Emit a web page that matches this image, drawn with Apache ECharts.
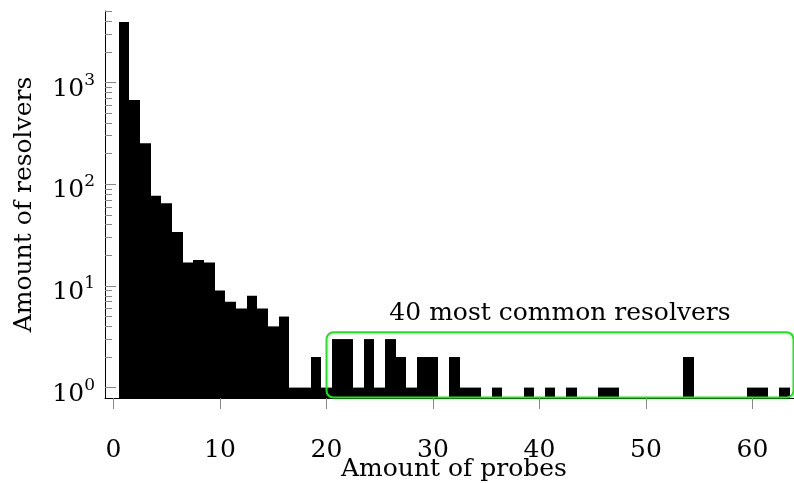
<!DOCTYPE html>
<html>
<head>
<meta charset="utf-8">
<script src="https://cdn.jsdelivr.net/npm/echarts@6/dist/echarts.min.js"></script>
<style>
html,body{margin:0;padding:0;background:#fff;}
#chart{width:794px;height:483px;}
</style>
</head>
<body>
<div id="chart"></div>
<script>
// Amount of probes (x) and amount of resolvers (y) per bin
const probes = [1,2,3,4,5,6,7,8,9,10,11,12,13,14,15,16,17,18,19,20,21,22,23,24,25,26,27,28,29,30,31,32,33,34,35,36,37,38,39,40,41,42,43,44,45,46,47,48,49,50,51,52,53,54,55,56,57,58,59,60,61,62,63];
const resolvers = [3950,674,253,77,65,34,17,18,17,9,7,6,8,6,4,5,1,1,2,1,3,3,1,3,1,3,2,1,2,2,0,2,1,1,0,1,0,0,1,0,1,0,1,0,0,1,1,0,0,0,0,0,0,2,0,0,0,0,0,1,1,0,1];
const xTicks = [0,10,20,30,40,50,60];
const yMajorTicks = [1,10,100,1000];
const yMinorTicks = [2,3,4,5,6,7,8,9,20,30,40,50,60,70,80,90,200,300,400,500,600,700,800,900,2000,3000,4000,5000];
// annotation box: x range and top value
const boxX = [20, 63.85];
const boxTop = 3.5;
const boxLabel = '40 most common resolvers';

const X_MIN = -0.8, X_MAX = 63.9, Y_MIN = 0.79, Y_MAX = 5060;
const FONT = 'DejaVu Serif';
const barData = [];
probes.forEach((p, i) => { if (resolvers[i] > 0) barData.push([p, resolvers[i]]); });

const chart = echarts.init(document.getElementById('chart'), null, {renderer: 'canvas'});
chart.setOption({
  animation: false,
  backgroundColor: '#fff',
  grid: {left: 105, right: 0, top: 11, bottom: 85, containLabel: false, outerBoundsMode: 'none'},
  xAxis: {
    type: 'value', min: X_MIN, max: X_MAX,
    name: 'Amount of probes', nameLocation: 'middle', nameGap: 59, nameMoveOverlap: false,
    nameTextStyle: {fontFamily: FONT, fontSize: 25, color: '#000', padding: [0,0,0,9]},
    axisLine: {show: true, onZero: false, lineStyle: {color: '#000', width: 1}},
    axisTick: {show: true, inside: false, length: 11, lineStyle: {color: '#888', width: 1}, customValues: xTicks},
    axisLabel: {show: true, margin: 40, fontFamily: FONT, fontSize: 25, color: '#000', customValues: xTicks},
    splitLine: {show: false}
  },
  yAxis: [{
    type: 'log', min: Y_MIN, max: Y_MAX, logBase: 10,
    name: 'Amount of resolvers', nameLocation: 'middle', nameGap: 68, nameRotate: 90, nameMoveOverlap: false,
    nameTextStyle: {fontFamily: FONT, fontSize: 25, color: '#000'},
    axisLine: {show: true, onZero: false, lineStyle: {color: '#000', width: 1}},
    axisTick: {show: true, inside: true, length: 11, lineStyle: {color: '#888', width: 1}, customValues: yMajorTicks},
    axisLabel: {
      show: true, margin: 10, customValues: yMajorTicks, padding: [8,0,0,0],
      formatter: v => '{b|10}{s|' + Math.round(Math.log10(v)) + '}',
      rich: {
        b: {fontFamily: FONT, fontSize: 25, lineHeight: 30, color: '#000', verticalAlign: 'bottom'},
        s: {fontFamily: FONT, fontSize: 17, lineHeight: 20, color: '#000', verticalAlign: 'top'}
      }
    },
    splitLine: {show: false}
  }, {
    type: 'log', min: Y_MIN, max: Y_MAX, logBase: 10, position: 'left', offset: 0,
    axisLine: {show: false, onZero: false},
    axisTick: {show: true, inside: true, length: 7, lineStyle: {color: '#888', width: 1}, customValues: yMinorTicks},
    axisLabel: {show: false},
    splitLine: {show: false}
  }],
  series: [{
    type: 'custom',
    xAxisIndex: 0, yAxisIndex: 0,
    data: barData,
    clip: true,
    renderItem: (params, api) => {
      const x = api.value(0), v = api.value(1);
      const p0 = api.coord([x - 0.5, v]);
      const p1 = api.coord([x + 0.5, Y_MIN]);
      const x0 = Math.round(p0[0]), x1 = Math.round(p1[0]);
      return {type: 'rect', shape: {x: x0, y: p0[1], width: x1 - x0, height: p1[1] - p0[1]},
        style: {fill: '#000'}};
    }
  }, {
    type: 'custom',
    xAxisIndex: 0, yAxisIndex: 0,
    data: [[boxX[0], boxX[1], boxTop]],
    clip: false, z: 5,
    renderItem: (params, api) => {
      const a = api.coord([api.value(0), api.value(2)]);
      const b = api.coord([api.value(1), Y_MIN]);
      return {type: 'group', children: [
        {type: 'rect', shape: {x: a[0], y: a[1], width: b[0] - a[0], height: b[1] - a[1] - 0.5, r: 7},
          style: {fill: 'none', stroke: '#11ee11', lineWidth: 2}},
        {type: 'text', style: {text: boxLabel, x: (a[0] + b[0]) / 2, y: a[1] - 18.5, align: 'center', verticalAlign: 'middle',
          font: '25px "DejaVu Serif"', fill: '#000'}}
      ]};
    }
  }]
});
</script>
</body>
</html>
